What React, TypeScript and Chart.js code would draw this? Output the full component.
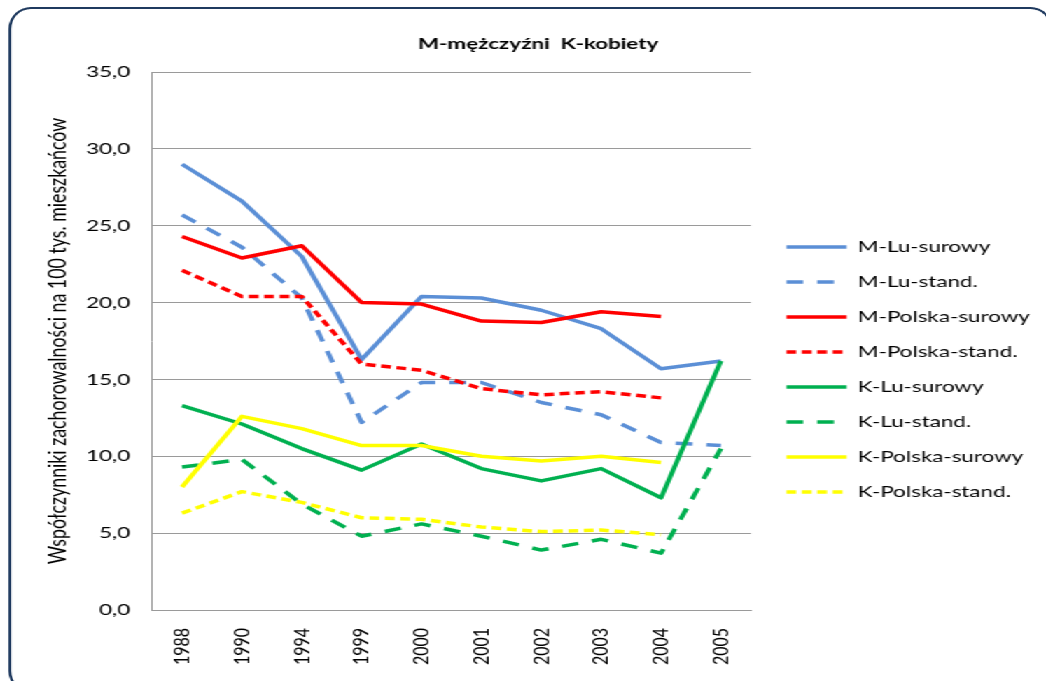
import { useEffect, useRef } from 'react';
import { Chart, registerables } from 'chart.js';

Chart.register(...registerables);

const years = ['1988', '1990', '1994', '1999', '2000', '2001', '2002', '2003', '2004', '2005'];

const mLuSurowy = [29.0, 26.6, 23.0, 16.3, 20.4, 20.3, 19.5, 18.3, 15.7, 16.2];
const mLuStand = [25.7, 23.6, 20.3, 12.2, 14.8, 14.8, 13.5, 12.7, 10.9, 10.7];
const mPolskaSurowy = [24.3, 22.9, 23.7, 20.0, 19.9, 18.8, 18.7, 19.4, 19.1, null];
const mPolskaStand = [22.1, 20.4, 20.4, 16.0, 15.6, 14.4, 14.0, 14.2, 13.8, null];
const kLuSurowy = [13.3, 12.1, 10.5, 9.1, 10.8, 9.2, 8.4, 9.2, 7.3, 16.2];
const kLuStand = [9.3, 9.8, 6.9, 4.8, 5.6, 4.8, 3.9, 4.6, 3.7, 10.5];
const kPolskaSurowy = [8.0, 12.6, 11.8, 10.7, 10.7, 10.0, 9.7, 10.0, 9.6, null];
const kPolskaStand = [6.3, 7.7, 7.0, 6.0, 5.9, 5.4, 5.1, 5.2, 4.9, null];

const seriesNames = [
  'M-Lu-surowy',
  'M-Lu-stand.',
  'M-Polska-surowy',
  'M-Polska-stand.',
  'K-Lu-surowy',
  'K-Lu-stand.',
  'K-Polska-surowy',
  'K-Polska-stand.',
];

const title = 'M-mężczyźni  K-kobiety';
const yTitle = 'Współczynniki zachorowalności na 100 tys. mieszkańców';

const BLUE = '#5B8FD6';
const RED = '#FF0000';
const GREEN = '#00B050';
const YELLOW = '#FFFF00';
const LONG_DASH = [12, 10];
const SHORT_DASH = [7, 4];
const LINE_W = 3.5;

const W0 = 747;
const H0 = 760;
const SX = 1046 / W0;

export default function App() {
  const ref = useRef<HTMLCanvasElement>(null);

  useEffect(() => {
    document.body.style.overflow = 'hidden';
    const values = [mLuSurowy, mLuStand, mPolskaSurowy, mPolskaStand, kLuSurowy, kLuStand, kPolskaSurowy, kPolskaStand];
    const colors = [BLUE, BLUE, RED, RED, GREEN, GREEN, YELLOW, YELLOW];
    const dashes = [[], LONG_DASH, [], SHORT_DASH, [], LONG_DASH, [], SHORT_DASH];
    const datasets = values.map((data, i) => ({
      label: seriesNames[i],
      data,
      borderColor: colors[i],
      backgroundColor: colors[i],
      borderWidth: LINE_W,
      borderDash: dashes[i],
      borderJoinStyle: 'round',
      pointRadius: 0,
      pointHoverRadius: 0,
      pointStyle: 'line',
      tension: 0,
      fill: false,
      order: 7 - i,
    }));

    const font = 'Lato';
    const chart = new Chart(ref.current as HTMLCanvasElement, {
      type: 'line',
      data: { labels: years, datasets: datasets as any },
      options: {
        responsive: false,
        animation: false,
        devicePixelRatio: 1,
        layout: { padding: { left: 23.1, right: 1.5, top: 0, bottom: 21 } },
        plugins: {
          title: {
            display: true,
            text: title,
            color: '#000',
            font: { family: font, size: 16, weight: 'bold' },
            padding: { top: 34.4, bottom: 18.4 },
          },
          legend: {
            position: 'right',
            align: 'center',
            maxWidth: 300,
            labels: {
              usePointStyle: true,
              pointStyle: 'line',
              pointStyleWidth: 43,
              color: '#000',
              font: { family: font, size: 16 },
              padding: 19,
              sort: (a: any, b: any) => a.datasetIndex - b.datasetIndex,
              generateLabels: (c: any) => {
                const items = Chart.defaults.plugins.legend.labels.generateLabels(c);
                return items.map((it: any) => {
                  const ds = c.data.datasets[it.datasetIndex];
                  return {
                    ...it,
                    lineDash: ds.borderDash,
                    lineWidth: ds.borderWidth,
                    strokeStyle: ds.borderColor,
                    lineCap: 'butt',
                    pointStyle: 'line',
                  };
                });
              },
            },
          },
          tooltip: { enabled: false },
        },
        scales: {
          x: {
            type: 'category',
            offset: true,
            grid: { display: false, drawTicks: false },
            border: { display: true, color: '#9A9A9A', width: 1 },
            ticks: {
              autoSkip: false,
              minRotation: 90,
              maxRotation: 90,
              padding: 18,
              color: '#000',
              font: { family: font, size: 16 },
            },
            afterFit: (s: any) => {
              s.height = 129;
            },
          },
          y: {
            type: 'linear',
            position: 'left',
            min: 0,
            max: 35,
            grid: { color: '#9A9A9A', lineWidth: 1, drawTicks: false },
            border: { display: true, color: '#9A9A9A', width: 1 },
            ticks: {
              stepSize: 5,
              padding: 15.6,
              color: '#000',
              font: { family: font, size: 16 },
              callback: (v: any) => Number(v).toFixed(1).replace('.', ','),
            },
            title: {
              display: true,
              text: yTitle,
              color: '#000',
              font: { family: font, size: 17.8 },
              padding: { top: 7.6, bottom: 0 },
            },
            afterFit: (s: any) => {
              s.width = 85.5;
            },
          },
          y2: {
            type: 'linear',
            position: 'right',
            display: true,
            grid: { display: false, drawTicks: false },
            border: { display: false },
            ticks: { display: false },
            afterFit: (s: any) => {
              s.width = 6.4;
            },
          },
        },
      } as any,
    });
    return () => chart.destroy();
  }, []);

  return (
    <div
      style={{
        position: 'fixed',
        left: 0,
        top: 0,
        width: W0,
        height: H0,
        transform: `scaleX(${SX})`,
        transformOrigin: '0 0',
        background: '#fff',
      }}
    >
      <div
        style={{
          position: 'absolute',
          left: 5.7,
          top: 7,
          width: 746,
          height: 686,
          boxSizing: 'border-box',
          border: '2.5px solid #1F3A5F',
          borderRadius: '16px / 22px',
        }}
      />
      <canvas
        ref={ref}
        width={W0}
        height={H0}
        style={{ position: 'absolute', left: 0, top: 0, width: W0, height: H0 }}
      />
    </div>
  );
}
